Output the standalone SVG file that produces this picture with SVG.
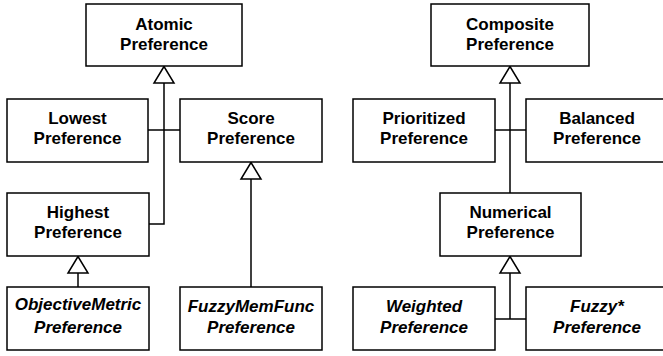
<svg xmlns="http://www.w3.org/2000/svg" width="663" height="356" viewBox="0 0 663 356">
<style>
.box{fill:#fff;stroke:#000;stroke-width:1.5}
.t{font-family:"Liberation Sans",Arial,sans-serif;font-size:17px;font-weight:bold;text-anchor:middle;fill:#000}
.i{font-style:italic}
.c{fill:none;stroke:#000;stroke-width:1.5}
.tri{fill:#fff;stroke:#000;stroke-width:1.5;stroke-linejoin:miter}
</style>
<rect width="663" height="356" fill="#fff"/>
<g id="connectors">
<path class="c" d="M164 83V224H149"/>
<path class="c" d="M148 130H180"/>
<path class="c" d="M251 179V287"/>
<path class="c" d="M78 273V287"/>
<path class="c" d="M510 83V193"/>
<path class="c" d="M495 130H526"/>
<path class="c" d="M510 273V319"/>
<path class="c" d="M495 319H526"/>
<polygon class="tri" points="164,66.5 154,83 174,83"/>
<polygon class="tri" points="251,162.5 241,179 261,179"/>
<polygon class="tri" points="78,256.5 68,273 88,273"/>
<polygon class="tri" points="510,66.5 500,83 520,83"/>
<polygon class="tri" points="510,256.5 500,273 520,273"/>
</g>
<g id="atomic"><rect class="box" x="86" y="4" width="156" height="62"/><text class="t" x="164" y="30">Atomic</text><text class="t" x="164" y="50">Preference</text></g>
<g id="lowest"><rect class="box" x="7" y="99" width="141" height="63"/><text class="t" x="77.5" y="124">Lowest</text><text class="t" x="77.5" y="144">Preference</text></g>
<g id="score"><rect class="box" x="180" y="99" width="142" height="63"/><text class="t" x="251" y="124">Score</text><text class="t" x="251" y="144">Preference</text></g>
<g id="highest"><rect class="box" x="7" y="193" width="142" height="63"/><text class="t" x="78" y="218">Highest</text><text class="t" x="78" y="238">Preference</text></g>
<g id="objectivemetric"><rect class="box" x="7" y="287" width="142" height="63"/><text class="t i" x="78" y="309.5">ObjectiveMetric</text><text class="t i" x="78" y="333">Preference</text></g>
<g id="fuzzymemfunc"><rect class="box" x="180" y="287" width="142" height="63"/><text class="t i" x="251" y="312">FuzzyMemFunc</text><text class="t i" x="251" y="332.5">Preference</text></g>
<g id="composite"><rect class="box" x="431" y="4" width="158" height="62"/><text class="t" x="510" y="30">Composite</text><text class="t" x="510" y="50">Preference</text></g>
<g id="prioritized"><rect class="box" x="353" y="99" width="142" height="63"/><text class="t" x="424" y="124">Prioritized</text><text class="t" x="424" y="144">Preference</text></g>
<g id="balanced"><rect class="box" x="526" y="99" width="142" height="63"/><text class="t" x="597" y="124">Balanced</text><text class="t" x="597" y="144">Preference</text></g>
<g id="numerical"><rect class="box" x="440" y="193" width="141" height="63"/><text class="t" x="510.5" y="218">Numerical</text><text class="t" x="510.5" y="238">Preference</text></g>
<g id="weighted"><rect class="box" x="353" y="287" width="142" height="63"/><text class="t i" x="424" y="312">Weighted</text><text class="t i" x="424" y="332.5">Preference</text></g>
<g id="fuzzystar"><rect class="box" x="526" y="287" width="142" height="63"/><text class="t i" x="597" y="312">Fuzzy*</text><text class="t i" x="597" y="332.5">Preference</text></g>
</svg>
